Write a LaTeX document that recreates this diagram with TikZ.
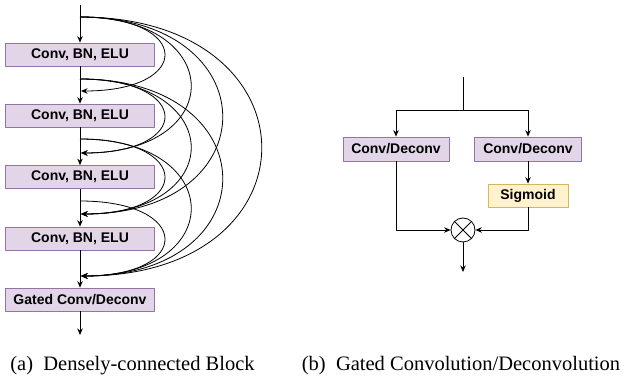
\documentclass[tikz,border=0pt]{standalone}
\usepackage{fontspec}
\usetikzlibrary{arrows.meta}
\setmainfont{Liberation Serif}
\setsansfont{Liberation Sans}
\definecolor{layerfill}{HTML}{E1D5E7}
\definecolor{layerline}{HTML}{9673A6}
\definecolor{sigfill}{HTML}{FFF2CC}
\definecolor{sigline}{HTML}{D6B656}
\tikzset{
	layer/.style={draw=layerline,fill=layerfill,line width=0.8pt,minimum height=23pt,inner sep=0pt,
		font=\sffamily\bfseries\fontsize{14}{16}\selectfont},
	gatebox/.style={layer,draw=sigline,fill=sigfill},
	caption/.style={anchor=base,font=\fontsize{20.5}{24}\selectfont},
}
\begin{document}
\begin{tikzpicture}[x=1pt,y=-1pt,line join=round,>={Stealth[length=6.5pt,width=5.5pt]},line width=0.8pt]
	\useasboundingbox (0,0) rectangle (625,379);
	% (a) densely-connected block
	\coordinate (in) at (80,5);
	\node[layer,minimum width=149pt] (L1) at (80,54.5) {Conv, BN, ELU};
	\node[layer,minimum width=149pt] (L2) at (80,115.5) {Conv, BN, ELU};
	\node[layer,minimum width=149pt] (L3) at (80,177) {Conv, BN, ELU};
	\node[layer,minimum width=149pt] (L4) at (80,238.5) {Conv, BN, ELU};
	\node[layer,minimum width=149pt] (G) at (80,299.5) {Gated Conv/Deconv};
	\coordinate (out) at (80,335);
	\coordinate (s0) at (80,17);
	\coordinate (s1) at (80,79);
	\coordinate (s2) at (80,139);
	\coordinate (s3) at (80,201);
	\coordinate (t1) at (81,91);
	\coordinate (t2) at (81,153);
	\coordinate (t3) at (81,214);
	\coordinate (t4) at (81,276);
	\draw[->] (in)--(L1);
	\draw[->] (L1)--(L2);
	\draw[->] (L2)--(L3);
	\draw[->] (L3)--(L4);
	\draw[->] (L4)--(G);
	\draw[->] (G)--(out);
	\foreach \i/\j/\d in {0/1/112,0/2/147,0/3/189,0/4/241,1/2/112,1/3/147,1/4/189,2/3/112,2/4/147,3/4/112}
		\draw[->] (s\i) .. controls +(\d,0) and +(\d,0) .. (t\j);
	% (b) gated convolution
	\coordinate (gin) at (463,77);
	\coordinate (split) at (463,110);
	\node[layer,minimum width=106pt,minimum height=24pt] (conv) at (396,149) {Conv/Deconv};
	\node[layer,minimum width=107pt,minimum height=24pt] (convg) at (528,149) {Conv/Deconv};
	\node[gatebox,minimum width=80pt] (sig) at (528,195.5) {Sigmoid};
	\node[draw,circle,minimum size=24pt,inner sep=0pt] (mul) at (463,230) {};
	\coordinate (gout) at (463,272);
	\draw (mul.45)--(mul.225) (mul.135)--(mul.-45);
	\draw (gin)--(split);
	\draw[->] (split) -| (conv);
	\draw[->] (split) -| (convg);
	\draw[->] (convg)--(sig);
	\draw[->] (conv) |- (mul);
	\draw[->] (sig) |- (mul);
	\draw[->] (mul)--(gout);
	% captions
	\node[caption] (capa) at (132.5,371) {(a)\hspace{0.5em}Densely-connected Block};
	\node[caption] (capb) at (461,371) {(b)\hspace{0.5em}Gated Convolution/Deconvolution};
\end{tikzpicture}
\end{document}
